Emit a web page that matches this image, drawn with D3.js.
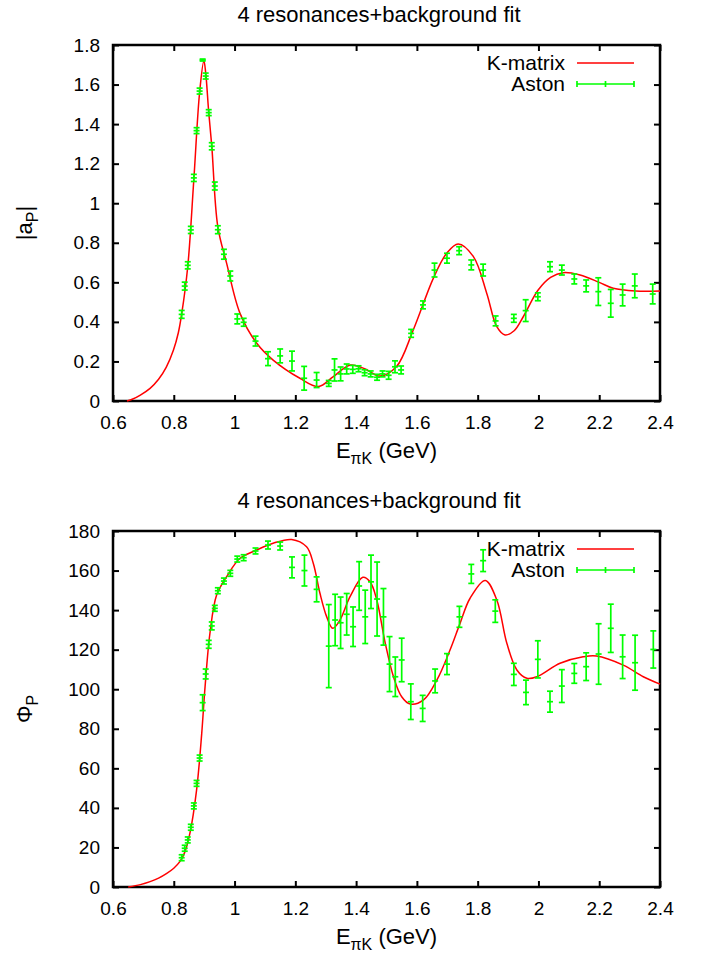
<!DOCTYPE html>
<html>
<head>
<meta charset="utf-8">
<script src="https://cdn.jsdelivr.net/npm/d3@7"></script>
<style>
  body { margin: 0; background: #fff; }
  svg text { font-family: "Liberation Sans", Arial, sans-serif; fill: #000; }
</style>
</head>
<body>
<div id="chart"></div>
<script>
// |a_P| data (Aston)
const ampE = [0.826,0.836,0.846,0.856,0.866,0.875,0.885,0.895,0.905,0.915,0.925,0.935,0.945,
  0.965,0.986,1.009,1.030,1.069,1.110,1.150,1.189,
  1.229,1.270,1.310,1.329,1.349,1.369,1.389,1.408,1.428,1.448,
  1.469,1.487,1.507,1.528,1.548,1.581,1.620,1.658,1.699,1.739,
  1.779,1.818,1.859,1.919,1.958,1.998,2.038,2.077,2.118,2.157,
  2.197,2.238,2.277,2.317,2.376];
const ampVal = [0.438,0.581,0.686,0.865,1.128,1.367,1.567,1.724,1.643,1.458,1.288,1.087,0.866,
  0.742,0.632,0.415,0.398,0.303,0.214,0.228,0.202,
  0.115,0.106,0.089,0.157,0.137,0.162,0.160,0.163,0.143,0.137,
  0.120,0.137,0.130,0.173,0.157,0.342,0.486,0.662,0.722,0.760,
  0.688,0.662,0.405,0.418,0.457,0.527,0.679,0.662,0.617,0.582,
  0.553,0.494,0.536,0.582,0.541];
const ampErr = [0.020,0.020,0.018,0.018,0.018,0.015,0.015,0.005,0.015,0.015,0.018,0.020,0.020,
  0.025,0.025,0.025,0.020,0.025,0.035,0.035,0.050,
  0.060,0.038,0.015,0.056,0.035,0.025,0.020,0.015,0.015,0.015,
  0.015,0.015,0.020,0.030,0.020,0.020,0.020,0.035,0.025,0.020,
  0.025,0.030,0.025,0.020,0.055,0.020,0.025,0.025,0.025,0.030,
  0.070,0.070,0.055,0.060,0.050];

// |a_P| fit (K-matrix)
const ampFitE = [0.646,0.665,0.690,0.722,0.750,0.775,0.799,0.815,0.826,0.846,0.866,0.885,0.899,0.905,0.915,0.925,0.945,
  0.974,1.018,1.073,1.127,1.215,1.276,1.325,1.381,1.430,1.479,1.533,1.588,1.654,1.698,1.736,
  1.786,1.830,1.863,1.890,1.920,1.950,1.999,2.040,2.082,2.137,2.200,2.246,2.320,2.400];
const ampFitVal = [0,0.010,0.030,0.064,0.110,0.170,0.258,0.345,0.44,0.68,1.12,1.56,1.72,1.66,1.46,1.29,0.88,
  0.696,0.443,0.292,0.207,0.115,0.073,0.123,0.182,0.162,0.126,0.174,0.359,0.620,0.747,0.794,
  0.730,0.544,0.376,0.334,0.355,0.426,0.561,0.625,0.649,0.637,0.600,0.570,0.556,0.556];

// Phi_P data (Aston)
const phaseE = [0.826,0.836,0.846,0.856,0.866,0.875,0.885,0.895,0.905,0.915,0.925,0.935,0.945,
  0.965,0.986,1.009,1.030,1.069,1.110,1.150,1.189,
  1.230,1.270,1.310,1.331,1.349,1.369,1.390,1.410,1.430,1.449,
  1.469,1.490,1.510,1.529,1.550,1.580,1.619,1.660,1.699,1.740,
  1.779,1.818,1.858,1.919,1.959,1.998,2.038,2.077,2.118,2.157,
  2.198,2.238,2.277,2.318,2.378];
const phaseVal = [14.8,19.6,23.8,30.2,41.0,52.4,65.2,93.2,107.7,122.7,132.0,140.9,149.8,
  154.7,158.6,165.8,166.5,169.9,172.9,172.4,161.6,
  160.0,150.5,121.8,135.0,133.6,137.9,131.6,152.2,136.6,154.3,
  145.6,136.6,112.7,106.3,114.8,93.7,90.3,104.2,112.7,136.6,
  158.3,165.0,139.5,107.5,98.4,115.1,93.7,101.6,108.0,111.4,
  117.8,130.8,116.4,113.4,120.1];
const phaseErr = [1.5,1.5,1.5,1.5,1.5,1.5,1.5,4.0,2.5,2.0,2.0,1.5,1.5,
  1.5,1.5,1.5,1.5,1.5,2.0,2.0,5.3,
  7.8,6.3,21,13,13,10.5,10,12.3,13.5,13.5,
  18.7,14.3,13.9,10,11,9,6.6,6,5.3,5.3,
  4.8,5.5,5.7,5.6,6.2,9.4,5.3,8.3,5,7,
  15.3,12.2,11,13.9,9.4];

// Phi_P fit (K-matrix)
const phaseFitE = [0.650,0.690,0.722,0.750,0.777,0.800,0.820,0.836,0.853,0.875,0.892,0.903,0.919,
  0.941,0.974,1.018,1.073,1.127,1.188,1.237,1.259,1.281,1.303,
  1.323,1.347,1.380,1.422,1.446,1.468,1.496,1.523,1.550,1.578,
  1.622,1.666,1.709,1.742,1.775,1.825,1.863,1.896,1.929,1.962,
  1.995,2.071,2.147,2.191,2.279,2.345,2.400];
const phaseFitVal = [0,1.2,2.7,4.5,6.9,9.5,12.8,17.5,27.1,49,77.7,101.3,128.3,
  147.6,156.9,166.2,170.4,173.8,175.7,172.0,163.7,148.5,136.7,
  130.8,135.0,146.8,156.6,154.3,145.1,123.2,106.3,96.2,92.5,
  94.6,104.7,119.8,133.3,146.0,155.0,145.1,123.2,109.7,105.5,
  106.3,113.1,116.4,116.8,112.2,106.3,102.6];

const xTicks = [0.6,0.8,1,1.2,1.4,1.6,1.8,2,2.2,2.4];
const ampTicks = [0,0.2,0.4,0.6,0.8,1,1.2,1.4,1.6,1.8];
const phaseTicks = [0,20,40,60,80,100,120,140,160,180];
const titleText = "4 resonances+background fit";
const legendLabels = ["K-matrix", "Aston"];

const width = 709, height = 953;
const RED = "#ff0000", GREEN = "#00ff00";
const FONT = "Liberation Sans, Arial, sans-serif";

const svg = d3.select("#chart").append("svg")
  .attr("width", width)
  .attr("height", height);

function drawPanel(opts) {
  const left = 113, right = 660;
  const x = d3.scaleLinear().domain([0.6, 2.4]).range([left, right]);
  const y = d3.scaleLinear().domain(opts.yDomain).range([opts.bottom, opts.top]);
  const g = svg.append("g");

  // title
  g.append("text")
    .attr("x", 379)
    .attr("y", opts.top - 23)
    .attr("text-anchor", "middle")
    .attr("font-size", "22px")
    .text(titleText);

  // axes, ticks inside, mirrored
  const fmt = d => d3.format("")(d);
  g.append("g").attr("transform", `translate(0,${opts.bottom})`)
    .call(d3.axisBottom(x).tickValues(xTicks).tickFormat(fmt).tickSizeInner(-6).tickSizeOuter(0).tickPadding(15))
    .call(a => a.select(".domain").remove());
  g.append("g").attr("transform", `translate(0,${opts.top})`)
    .call(d3.axisTop(x).tickValues(xTicks).tickFormat("").tickSizeInner(-6).tickSizeOuter(0))
    .call(a => a.select(".domain").remove());
  g.append("g").attr("transform", `translate(${left},0)`)
    .call(d3.axisLeft(y).tickValues(opts.yTicks).tickFormat(fmt).tickSizeInner(-6).tickSizeOuter(0).tickPadding(13))
    .call(a => a.select(".domain").remove());
  g.append("g").attr("transform", `translate(${right},0)`)
    .call(d3.axisRight(y).tickValues(opts.yTicks).tickFormat("").tickSizeInner(-6).tickSizeOuter(0))
    .call(a => a.select(".domain").remove());
  g.selectAll(".tick line").attr("stroke", "#000").attr("stroke-width", 2);
  g.selectAll(".tick text").attr("font-size", "19px").attr("font-family", FONT).attr("fill", "#000");

  // frame
  g.append("rect")
    .attr("x", left).attr("y", opts.top)
    .attr("width", right - left).attr("height", opts.bottom - opts.top)
    .attr("fill", "none").attr("stroke", "#000").attr("stroke-width", 2.5);

  // axis labels
  const xl = g.append("text")
    .attr("x", (left + right) / 2)
    .attr("y", opts.bottom + 57)
    .attr("text-anchor", "middle")
    .attr("font-size", "22px");
  xl.append("tspan").text("E");
  xl.append("tspan").attr("dy", 6).attr("font-size", "16px").text("πK");
  xl.append("tspan").attr("dy", -6).text(" (GeV)");

  const yl = g.append("text")
    .attr("transform", `translate(32,${(opts.top + opts.bottom) / 2}) rotate(-90)`)
    .attr("text-anchor", "middle")
    .attr("font-size", "22px");
  yl.append("tspan").text(opts.yLabel);
  yl.append("tspan").attr("dy", 6).attr("font-size", "16px").text("P");
  if (opts.yLabelEnd) yl.append("tspan").attr("dy", -6).text(opts.yLabelEnd);

  // fit curve
  const line = d3.line()
    .x(d => x(d[0]))
    .y(d => y(d[1]))
    .curve(d3.curveCatmullRom.alpha(0.5));
  g.append("path")
    .datum(d3.zip(opts.fitE, opts.fitVal))
    .attr("d", line)
    .attr("fill", "none")
    .attr("stroke", RED)
    .attr("stroke-width", 1.5);

  // error bars
  const pts = d3.zip(opts.dataE, opts.dataVal, opts.dataErr);
  const eb = g.append("g").attr("stroke", GREEN).attr("stroke-width", 1.7).attr("fill", "none");
  const cap = 3, plus = 3;
  pts.forEach(([e, v, s]) => {
    const cx = x(e), y0 = y(v - s), y1 = y(v + s), cy = y(v);
    eb.append("line").attr("x1", cx).attr("x2", cx).attr("y1", y0).attr("y2", y1);
    eb.append("line").attr("x1", cx - cap).attr("x2", cx + cap).attr("y1", y0).attr("y2", y0);
    eb.append("line").attr("x1", cx - cap).attr("x2", cx + cap).attr("y1", y1).attr("y2", y1);
    eb.append("line").attr("x1", cx - plus).attr("x2", cx + plus).attr("y1", cy).attr("y2", cy);
  });

  // legend
  const lg = g.append("g");
  const ly1 = opts.top + 18, ly2 = opts.top + 39;
  lg.append("text").attr("x", 565).attr("y", ly1 + 7).attr("text-anchor", "end").attr("font-size", "21px").text(legendLabels[0]);
  lg.append("text").attr("x", 565).attr("y", ly2 + 7).attr("text-anchor", "end").attr("font-size", "21px").text(legendLabels[1]);
  lg.append("line").attr("x1", 577).attr("x2", 634).attr("y1", ly1).attr("y2", ly1)
    .attr("stroke", RED).attr("stroke-width", 1.5);
  const la = lg.append("g").attr("stroke", GREEN).attr("stroke-width", 1.7);
  la.append("line").attr("x1", 577).attr("x2", 634).attr("y1", ly2).attr("y2", ly2);
  la.append("line").attr("x1", 577).attr("x2", 577).attr("y1", ly2 - 3).attr("y2", ly2 + 3);
  la.append("line").attr("x1", 634).attr("x2", 634).attr("y1", ly2 - 3).attr("y2", ly2 + 3);
  la.append("line").attr("x1", 605.5).attr("x2", 605.5).attr("y1", ly2 - 3).attr("y2", ly2 + 3);
}

drawPanel({
  top: 45, bottom: 401, yDomain: [0, 1.8], yTicks: ampTicks,
  yLabel: "|a", yLabelEnd: "|",
  dataE: ampE, dataVal: ampVal, dataErr: ampErr,
  fitE: ampFitE, fitVal: ampFitVal
});

drawPanel({
  top: 531, bottom: 887, yDomain: [0, 180], yTicks: phaseTicks,
  yLabel: "Φ", yLabelEnd: null,
  dataE: phaseE, dataVal: phaseVal, dataErr: phaseErr,
  fitE: phaseFitE, fitVal: phaseFitVal
});
</script>
</body>
</html>
